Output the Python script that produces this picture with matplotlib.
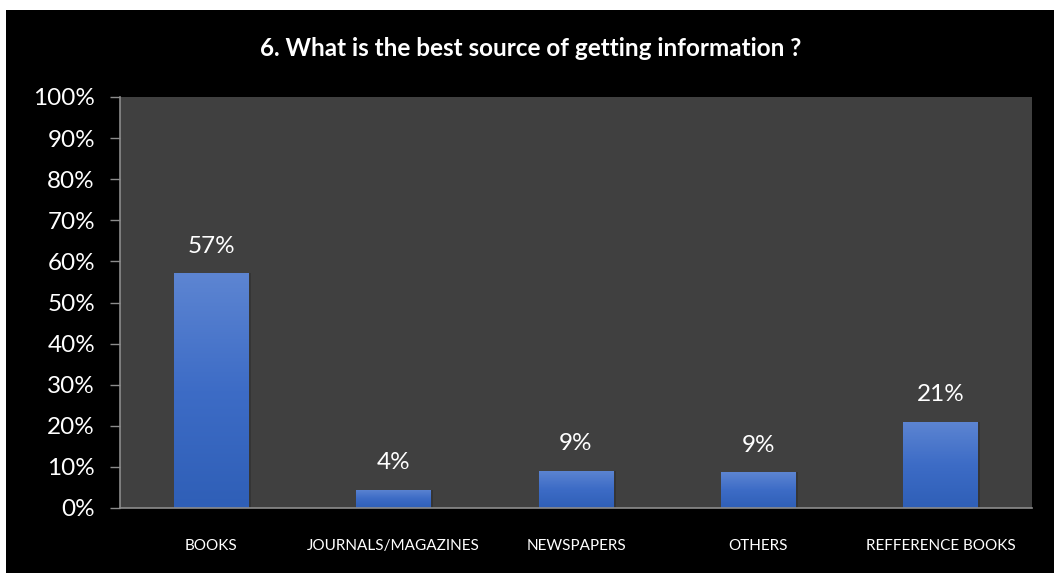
import matplotlib.pyplot as plt
import numpy as np
from matplotlib.colors import LinearSegmentedColormap
from matplotlib.patches import Rectangle
from matplotlib.ticker import MultipleLocator, FuncFormatter

# --- data ---
categories = ["BOOKS", "JOURNALS/MAGAZINES", "NEWSPAPERS", "OTHERS", "REFFERENCE BOOKS"]
shares = [57.1, 4.4, 9.1, 8.7, 21.0]
labels = ["57%", "4%", "9%", "9%", "21%"]
title = "6. What is the best source of getting information ?"

plt.rcParams['font.family'] = ['Lato', 'DejaVu Sans']

fig = plt.figure(figsize=(10.54, 5.73), dpi=100, facecolor='white')
# black chart frame inside a thin white margin
fig.patches.append(Rectangle((6 / 1054, 0), 1 - 6 / 1054, 1 - 10 / 573,
                             transform=fig.transFigure, facecolor='black',
                             edgecolor='none', zorder=-10))

ax = fig.add_axes([120 / 1054, 1 - 508 / 573, 912 / 1054, 411 / 573])
ax.set_facecolor('#404040')

x = np.arange(len(categories))
bars = ax.bar(x, shares, width=0.41, color='none', zorder=2)

# vertical gradient for each bar, lighter on top
grad = LinearSegmentedColormap.from_list('bar', ['#2f5fb7', '#3d6cc6', '#5d85d2'])
ramp = np.linspace(0, 1, 256).reshape(-1, 1)
for b in bars:
    x0, w, h = b.get_x(), b.get_width(), b.get_height()
    im = ax.imshow(ramp, cmap=grad, origin='lower', aspect='auto',
                   extent=[x0, x0 + w, 0, h], zorder=2)
    im.set_clip_path(b)
    # soft shadow to the right
    ax.add_patch(Rectangle((x0 + w, 0), 0.012, h, facecolor='#353535',
                           edgecolor='none', zorder=1))

for xi, v, lab in zip(x, shares, labels):
    ax.text(xi, v + 6.6, lab, ha='center', va='center', color='white', fontsize=17.5)

ax.set_xlim(-0.5, len(categories) - 0.5)
ax.set_ylim(0, 100)
ax.yaxis.set_major_locator(MultipleLocator(10))
ax.yaxis.set_major_formatter(FuncFormatter(lambda v, p: f"{v:.0f}%"))
ax.set_xticks(x)
ax.set_xticklabels(categories)

ax.tick_params(axis='y', colors='#8c8c8c', labelcolor='white', labelsize=17.5,
               length=7, width=1, pad=11)
ax.tick_params(axis='x', length=0, labelcolor='white', labelsize=11, pad=22)

for side in ['top', 'right']:
    ax.spines[side].set_visible(False)
for side in ['left', 'bottom']:
    ax.spines[side].set_color('#8c8c8c')
    ax.spines[side].set_linewidth(1.2)

fig.text(531 / 1054, 1 - 48 / 573, title, ha='center', va='center',
         color='white', fontsize=17.5, fontweight='bold')

fig.savefig('out.png', dpi=100, facecolor='white')
